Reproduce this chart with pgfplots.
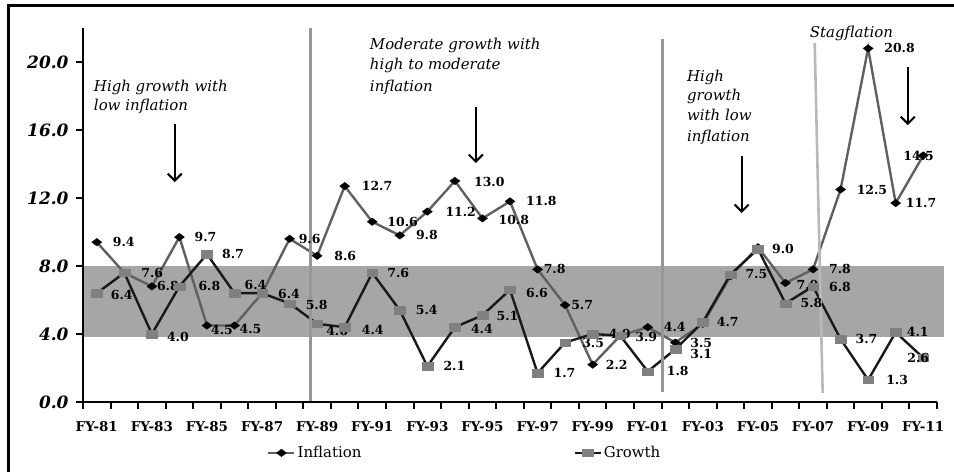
\documentclass[border=0pt]{standalone}
\usepackage{fontspec}
\setmainfont{DejaVu Serif}
\usepackage{pgfplots}
\pgfplotsset{compat=1.18}
\usetikzlibrary{arrows.meta}
\definecolor{band}{RGB}{166,166,166}
\definecolor{infl}{RGB}{96,96,96}
\definecolor{grsq}{RGB}{128,128,128}
\definecolor{grln}{RGB}{25,25,25}
\definecolor{vl}{RGB}{150,150,150}
\definecolor{vlb}{RGB}{185,185,185}

\pgfplotsset{
  lbl/.style={
    point meta=explicit symbolic,
    nodes near coords,
    visualization depends on={value \thisrow{dx} \as \ldx},
    visualization depends on={value \thisrow{dy} \as \ldy},
    every node near coord/.append style={anchor=west, inner sep=1bp,
       xshift=\ldx*1bp-1bp, yshift=\ldy*1bp,
       font=\bfseries\fontsize{12.5}{13}\selectfont, text=black},
  },
  inflst/.style={color=infl, line width=2.4bp, mark=diamond*, mark size=5bp,
    mark options={rotate=90, fill=black, draw=black, line width=0.4bp}},
  grst/.style={color=grln, line width=2.4bp, mark=square*, mark size=3.7bp,
    mark options={xscale=1.45, fill=grsq, draw=grsq, line width=0.3bp}},
}

\begin{document}
\begin{tikzpicture}
\path[use as bounding box] (-83bp,-70bp) rectangle (871bp,402bp);
\begin{axis}[
  at={(0,0)}, anchor=south west,
  scale only axis, width=854bp, height=374bp,
  xmin=-0.5, xmax=30.5, ymin=0, ymax=22,
  axis lines=left,
  axis line style={-, line width=2.6bp, black},
  clip=false, axis on top,
  xtick={-0.5,0.5,...,30.5},
  xticklabels={FY-81,{},FY-83,{},FY-85,{},FY-87,{},FY-89,{},FY-91,{},FY-93,{},FY-95,{},FY-97,{},FY-99,{},FY-01,{},FY-03,{},FY-05,{},FY-07,{},FY-09,{},FY-11,{},{}},
  xticklabel style={font=\bfseries\fontsize{13.5}{14}\selectfont, xshift=13.77bp, yshift=-8.5bp},
  ytick={0,4,...,20},
  yticklabel style={font=\bfseries\itshape\fontsize{17}{18}\selectfont, xshift=-4bp},
  /pgf/number format/fixed, /pgf/number format/fixed zerofill,
  /pgf/number format/precision=1, /pgf/number format/assume math mode=true,
  tick align=outside, major tick length=7bp,
  tick style={line width=2bp, black},
  legend columns=2,
  legend style={draw=none, fill=none, at={(axis description cs:0.2155,-0.136)}, anchor=west,
    font=\fontsize{15}{16}\selectfont, inner sep=0pt,
    /tikz/column 2/.style={column sep=210bp}},
  legend image code/.code={\draw[mark repeat=2,mark phase=2,#1] plot coordinates {(0bp,0bp) (13bp,0bp) (26bp,0bp)};},
]
\fill[band] (axis cs:-0.5,3.8) rectangle (axis cs:30.74,8.0);

\addplot[inflst, lbl, forget plot] table[x=x, y=y, meta=lab] {
x y lab dx dy
0 9.4 9.4 16 0
1 7.6 {} 16 0
2 6.8 6.8 5 0
3 9.7 9.7 15 0
4 4.5 4.5 4 -4
5 4.5 4.5 5 -3
6 6.4 {} 16 0
7 9.6 9.6 9 0
8 8.6 8.6 17 0
9 12.7 12.7 17 0
10 10.6 10.6 15 0
11 9.8 9.8 16 0
12 11.2 11.2 18 0
13 13.0 13.0 19 -1
14 10.8 10.8 16 -2
15 11.8 11.8 16 0
16 7.8 7.8 6 0
17 5.7 5.7 6 0
18 2.2 2.2 13 0
19 3.9 {} 16 0
20 4.4 4.4 16 0
21 3.5 3.5 15 0
22 4.6 {} 16 0
23 7.4 {} 16 0
24 9.1 {} 16 0
25 7.0 7.0 11 -2
26 7.8 7.8 16 0
27 12.5 12.5 16 0
28 20.8 20.8 16 0
29 11.7 11.7 10 0
30 14.5 14.5 -20 0
};
\addplot[grst, lbl, forget plot] table[x=x, y=y, meta=lab] {
x y lab dx dy
0 6.4 6.4 14 -2
1 7.6 7.6 17 0
2 4.0 4.0 15 -3
3 6.8 6.8 19 0
4 8.7 8.7 15 0
5 6.4 6.4 10 8
6 6.4 6.4 16 -1
7 5.8 5.8 16 -2
8 4.6 4.6 9 -7
9 4.4 4.4 17 -3
10 7.6 7.6 15 0
11 5.4 5.4 16 0
12 2.1 2.1 16 0
13 4.4 4.4 16 -2
14 5.1 5.1 14 -1
15 6.6 6.6 16 -3
16 1.7 1.7 16 0
17 3.5 3.5 17 0
18 4.0 4.0 16 0
19 3.9 3.9 15 -1
20 1.8 1.8 19 0
21 3.1 3.1 15 -5
22 4.7 4.7 14 0
23 7.5 7.5 15 0
24 9.0 9.0 14 0
25 5.8 5.8 15 0
26 6.8 6.8 16 -1
27 3.7 3.7 15 0
28 1.3 1.3 18 0
29 4.1 4.1 11 0
30 2.6 2.6 -16 0
};
\addlegendimage{inflst}
\addlegendentry{Inflation}
\addlegendimage{grst}
\addlegendentry{Growth}

\draw[vl, line width=3bp] (axis cs:7.768,0) -- (axis cs:7.768,22);
\draw[vl, line width=2.6bp] (axis cs:20.546,0.59) -- (axis cs:20.546,21.35);
\draw[vlb, line width=2.6bp] (axis cs:26.06,21.12) -- (axis cs:26.35,0.53);

\begin{scope}[every node/.style={anchor=base west, inner sep=0pt, font=\itshape\fontsize{15}{15}\selectfont}]
\node at (axis cs:-0.109,18.29) {High growth with};
\node at (axis cs:-0.109,17.12) {low inflation};
\node at (axis cs:9.91,20.76) {Moderate growth with};
\node at (axis cs:9.91,19.53) {high to moderate};
\node at (axis cs:9.91,18.29) {inflation};
\node at (axis cs:21.42,18.88) {High};
\node at (axis cs:21.42,17.71) {growth};
\node at (axis cs:21.42,16.53) {with low};
\node at (axis cs:21.42,15.35) {inflation};
\node at (axis cs:25.88,21.47) {Stagflation};
\end{scope}
\begin{scope}[line width=2bp, -{Straight Barb[length=7bp, width=14bp, line width=2bp]}]
\draw (axis cs:2.831,16.35) -- (axis cs:2.831,12.94);
\draw (axis cs:13.76,17.35) -- (axis cs:13.76,14.06);
\draw (axis cs:23.41,14.47) -- (axis cs:23.41,11.12);
\draw (axis cs:29.44,19.71) -- (axis cs:29.44,16.29);
\end{scope}
\end{axis}
\draw[line width=3bp, black] (-74bp,-80bp) -- (-74bp,396bp) -- (890bp,396bp);
\end{tikzpicture}
\end{document}
